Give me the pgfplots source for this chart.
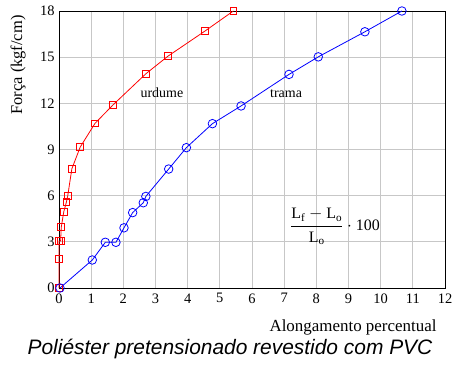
\documentclass[border=0pt]{standalone}
\usepackage{pgfplots}
\pgfplotsset{compat=1.18}
\usepackage{fontspec}
\setmainfont{Liberation Serif}
\setsansfont{Liberation Sans}
\begin{document}
\begin{tikzpicture}
\path[use as bounding box] (0,0) rectangle (454bp,365bp);
\begin{axis}[
  at={(59bp,77bp)}, anchor=south west,
  scale only axis, width=386bp, height=277bp,
  xmin=0, xmax=12, ymin=0, ymax=18,
  xtick={0,1,...,12}, ytick={0,3,...,18},
  grid=major, major grid style={draw=black!22, line width=0.8pt},
  major tick length=0pt,
  axis line style={line width=0.8pt},
  tick label style={font=\fontsize{14.5}{16}\selectfont},
  xticklabel style={yshift=-2bp},
  yticklabel style={xshift=-1bp},
  /pgf/number format/assume math mode=true,
  clip=false,
]
\addplot[red, line width=0.8pt, mark=square, mark size=3.4pt, mark options={line width=0.8pt}] coordinates {
(0,0)(0,1.9)(0,3.05)(0.05,3.05)(0.07,3.95)(0.15,4.97)(0.23,5.58)(0.27,5.97)(0.40,7.75)(0.66,9.16)(1.12,10.70)(1.68,11.9)(2.70,13.92)(3.39,15.07)(4.54,16.7)(5.42,18.0)
};
\addplot[blue, line width=0.8pt, mark=o, mark size=4.3pt, mark options={line width=0.8pt}] coordinates {
(0.03,0)(1.035,1.82)(1.44,2.97)(1.77,2.97)(2.02,3.91)(2.29,4.9)(2.62,5.54)(2.70,5.95)(3.41,7.73)(3.96,9.12)(4.77,10.68)(5.66,11.83)(7.15,13.88)(8.06,15.02)(9.51,16.65)(10.66,18.0)
};
\node[font=\fontsize{14}{16}\selectfont] at (axis cs:3.2,12.66) {urdume};
\node[font=\fontsize{14}{16}\selectfont] at (axis cs:7.06,12.6) {trama};
\node[font=\fontsize{16}{18}\selectfont] at (axis cs:8.58,4.0) {$\displaystyle\frac{\mathrm{L_f}-\mathrm{L_o}}{\mathrm{L_o}}\cdot\mbox{100}$};
\end{axis}
\node[rotate=90, font=\fontsize{16.5}{18}\selectfont] at (18bp,300bp) {Força (kgf/cm)};
\node[anchor=east, font=\fontsize{17}{19}\selectfont] at (440bp,38bp) {Alongamento percentual};
\node[font=\sffamily\itshape\fontsize{21}{23}\selectfont] at (230bp,16bp) {Poliéster pretensionado revestido com PVC};
\end{tikzpicture}
\end{document}
